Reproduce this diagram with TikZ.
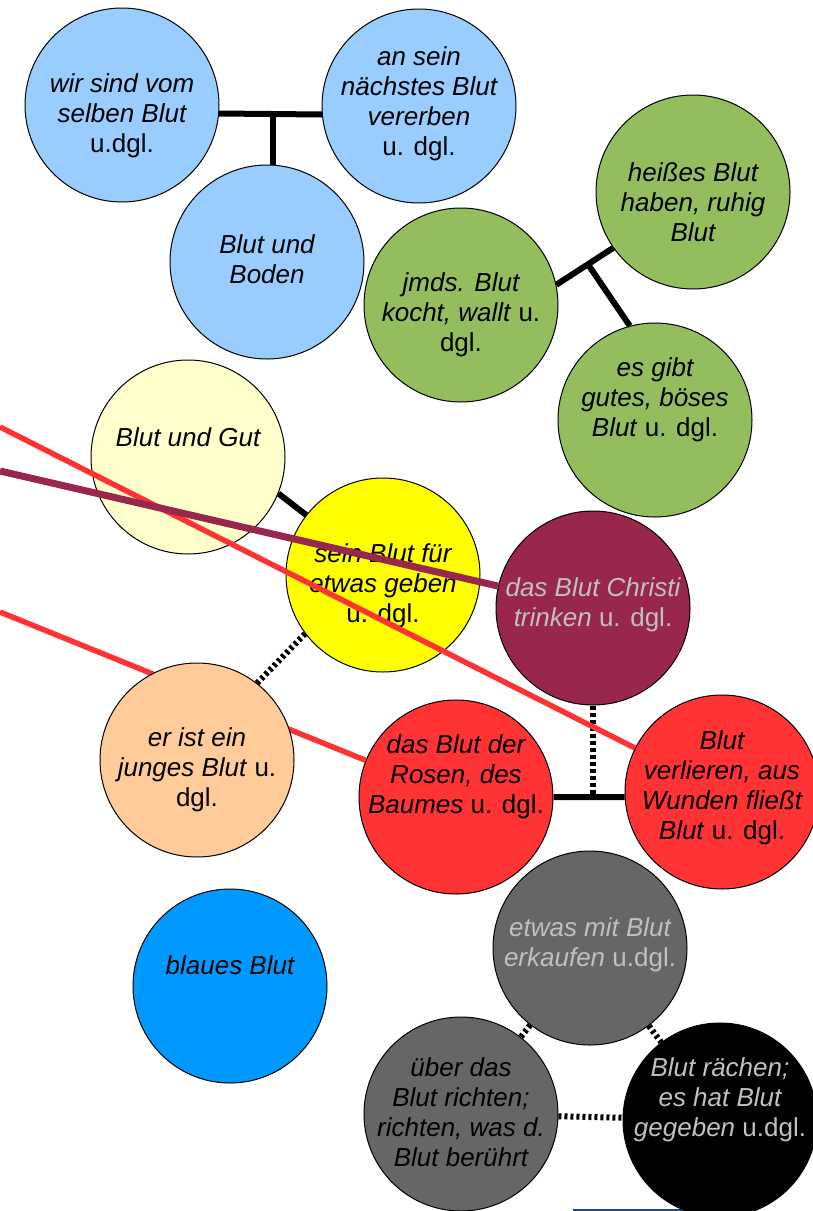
\documentclass[tikz,border=0pt]{standalone}
\usepackage{fontspec}
\setmainfont{Liberation Sans}
\usepackage{tikz}
\usetikzlibrary{calc}

\definecolor{skyblue}{HTML}{99CCFF}
\definecolor{meadow}{HTML}{94BD5E}
\definecolor{cream}{HTML}{FFFFCC}
\definecolor{sunyellow}{HTML}{FFFF00}
\definecolor{wine}{HTML}{99264D}
\definecolor{peach}{HTML}{FFCC99}
\definecolor{rosered}{HTML}{FF3333}
\definecolor{deepsky}{HTML}{0099FF}
\definecolor{ash}{HTML}{666666}
\definecolor{paletext}{HTML}{C0C0C0}
\definecolor{navyrule}{HTML}{1F497D}

\begin{document}
\begin{tikzpicture}[x=1pt, y=-1pt]
    \tikzstyle{bubble} = [circle, draw=black, line width=1pt, minimum size=194pt,
        inner sep=0pt]
    \tikzstyle{words} = [align=center, inner sep=0pt,
        font=\fontsize{26}{30}\selectfont\itshape]
    \tikzstyle{link} = [line width=6pt, black]
    \tikzstyle{dashlink} = [line width=6pt, black, dash pattern=on 3pt off 3pt]
    \tikzstyle{dotlink} = [line width=5.5pt, black, dash pattern=on 4pt off 3pt]
    \tikzstyle{strand} = [line width=5.5pt, rosered]

    \useasboundingbox (0, 0) rectangle (813, 1211);

    % stray rule at the bottom
    \coordinate (rule_a) at (573, 1210);
    \coordinate (rule_b) at (700, 1210);
    \draw [line width=1.5pt, navyrule] (rule_a) -- (rule_b);

    % Blue group ----------------------------------------
    \node (vom) at (122, 105) [bubble, fill=skyblue] {};
    \node (vom_t) at ($(vom) + (0, 11)$) [words] {wir sind vom\\selben Blut\\\textup{u.dgl.}};
    \node (erbe) at (419, 106) [bubble, fill=skyblue] {};
    \node (erbe_t) at ($(erbe) + (0, -2)$) [words] {an sein\\n\"achstes Blut\\vererben\\\textup{u. dgl.}};
    \node (boden) at (267, 262) [bubble, fill=skyblue] {};
    \node (boden_t) at ($(boden) + (0, -3)$) [words] {Blut und\\Boden};

    \coordinate (kin) at ($(vom.-5)!0.524!(erbe.185)$);
    \draw [link] (vom.-5) -- (erbe.185);
    \draw [link] (kin) -- (kin |- boden.north);

    % Green group ---------------------------------------
    \node (koch) at (461, 305) [bubble, fill=meadow] {};
    \node (koch_t) at ($(koch) + (0, 10)$) [words] {jmds. Blut\\kocht, wallt \textup{u.}\\\textup{dgl.}};
    \node (heiss) at (693, 192) [bubble, fill=meadow] {};
    \node (heiss_t) at ($(heiss) + (0, 10)$) [words] {hei\ss es Blut\\haben, ruhig\\Blut};
    \node (boese) at (655, 420) [bubble, fill=meadow] {};
    \node (boese_t) at ($(boese) + (0, -20)$) [words] {es gibt\\gutes, b\"oses\\Blut \textup{u. dgl.}};

    \coordinate (heat) at ($(koch.12)!0.556!(heiss.215)$);
    \draw [link] (koch.12) -- (heiss.215);
    \draw [link] (heat) -- (boese.105);

    % Middle --------------------------------------------
    \node (gut) at (188, 457) [bubble, fill=cream] {};
    \node (gut_t) at ($(gut) + (0, -20)$) [words] {Blut und Gut};
    \node (geben) at (383, 575) [bubble, fill=sunyellow] {};
    \node (geben_t) at ($(geben) + (0, 11)$) [words] {sein Blut f\"ur\\etwas geben\\\textup{u. dgl.}};
    \node (christi) at (593, 608) [bubble, fill=wine] {};
    \node (christi_t) at ($(christi) + (0, -3)$) [words, paletext] {das Blut Christi\\trinken \textup{u. dgl.}};

    \draw [link] (gut.-22) -- (geben.142);

    % Red group
    \node (rosen) at (456, 797) [bubble, fill=rosered] {};
    \node (rosen_t) at ($(rosen) + (0, -20)$) [words] {das Blut der\\Rosen, des\\Baumes \textup{u. dgl.}};
    \node (wunde) at (722, 792) [bubble, fill=rosered] {};
    \node (wunde_t) at ($(wunde) + (0, -4)$) [words] {Blut\\verlieren, aus\\Wunden flie\ss t\\Blut \textup{u. dgl.}};

    \draw [link] (rosen.east) -- (wunde.183);
    \draw [dotlink] (christi.south) -- (christi.south |- rosen.east);

    % Bottom --------------------------------------------
    \node (blau) at (230, 986) [bubble, fill=deepsky] {};
    \node (blau_t) at ($(blau) + (0, -21)$) [words] {blaues Blut};
    \node (kauf) at (590, 948) [bubble, fill=ash] {};
    \node (kauf_t) at ($(kauf) + (0, -3)$) [words, paletext] {etwas mit Blut\\erkaufen \textup{u.dgl.}};
    \node (richt) at (461, 1114) [bubble, fill=ash] {};
    \node (richt_t) at ($(richt) + (0, -2)$) [words] {\"uber das\\Blut richten;\\richten, was d.\\Blut ber\"uhrt};
    \node (rache) at (720, 1120) [bubble, fill=black] {};
    \node (rache_t) at ($(rache) + (0, -20)$) [words, paletext] {Blut r\"achen;\\es hat Blut\\gegeben \textup{u.dgl.}};

    \draw [dashlink] (kauf) -- (richt);
    \draw [dashlink] (kauf) -- (rache);
    \draw [dashlink] (richt) -- (rache);

    % Strands from the left -----------------------------
    \coordinate (in_a) at (0, 427);
    \coordinate (in_b) at (0, 471);
    \coordinate (in_c) at (0, 612);

    \draw [strand] (in_c) -- (rosen);
    \draw [strand] (in_a) -- (wunde);
    \draw [line width=7pt, wine] (in_b) -- (christi);

    % young blood sits over the strand
    \node (jung) at (197, 760) [bubble, fill=peach] {};
    \node (jung_t) at ($(jung) + (0, 10)$) [words] {er ist ein\\junges Blut \textup{u.}\\\textup{dgl.}};

    \draw [dashlink] (jung.52) -- (geben.217);
\end{tikzpicture}
\end{document}
